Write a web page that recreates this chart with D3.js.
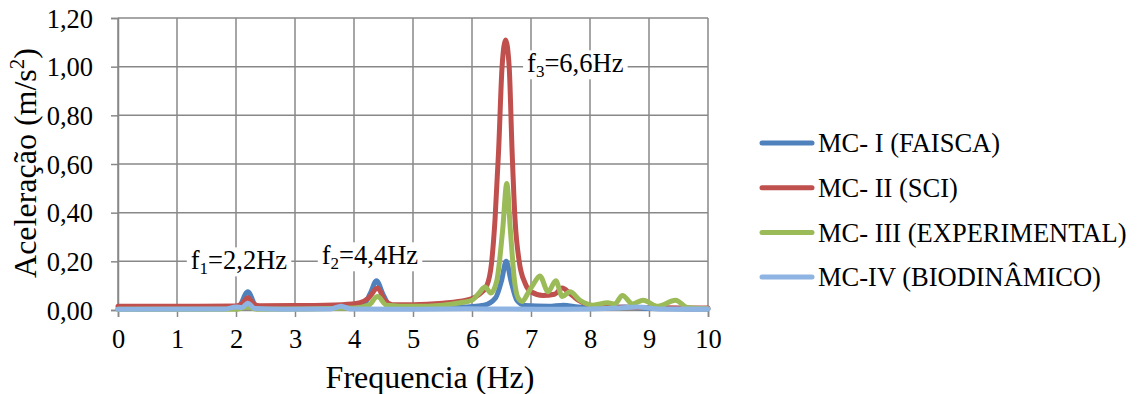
<!DOCTYPE html>
<html>
<head>
<meta charset="utf-8">
<script src="https://cdn.jsdelivr.net/npm/d3@7"></script>
<style>
  body { margin: 0; background: #fff; }
  text { font-family: "Liberation Serif", "Times New Roman", serif; fill: #000; }
</style>
</head>
<body>
<svg width="1137" height="394"></svg>
<script>
// values (Hz, m/s2)
var freqI = [0, 1.9, 2.05, 2.2, 2.35, 2.6, 3.8, 4.15, 4.28, 4.38, 4.5, 4.62, 5, 5.8, 6.2, 6.4, 6.5, 6.58, 6.66, 6.76, 6.9, 7.3, 7.55, 7.8, 8.2, 8.6, 9, 10];
var accI  = [0.005, 0.006, 0.015, 0.075, 0.012, 0.006, 0.01, 0.02, 0.07, 0.12, 0.06, 0.015, 0.01, 0.012, 0.02, 0.05, 0.12, 0.2, 0.12, 0.04, 0.018, 0.015, 0.02, 0.012, 0.008, 0.012, 0.006, 0.004];

var freqII = [0, 1, 2, 2.1, 2.2, 2.3, 2.4, 3, 3.8, 4.1, 4.25, 4.4, 4.52, 4.65, 5, 5.5, 5.9, 6.1, 6.25, 6.33, 6.39, 6.45, 6.51, 6.57, 6.63, 6.68, 6.73, 6.8, 6.9, 7.0, 7.2, 7.4, 7.53, 7.65, 7.8, 8.0, 8.3, 9, 10];
var accII  = [0.015, 0.015, 0.016, 0.025, 0.05, 0.025, 0.017, 0.018, 0.022, 0.03, 0.05, 0.09, 0.04, 0.022, 0.022, 0.028, 0.04, 0.06, 0.1, 0.19, 0.37, 0.65, 1.0, 1.11, 1.0, 0.65, 0.37, 0.2, 0.11, 0.075, 0.06, 0.065, 0.09, 0.07, 0.04, 0.02, 0.012, 0.01, 0.008];

var freqIII = [0, 2.0, 2.2, 2.35, 4.0, 4.25, 4.4, 4.55, 5.0, 5.5, 5.8, 6.0, 6.12, 6.22, 6.32, 6.42, 6.52, 6.59, 6.65, 6.72, 6.78, 6.85, 6.95, 7.05, 7.15, 7.29, 7.42, 7.53, 7.66, 7.83, 8.05, 8.3, 8.42, 8.55, 8.72, 8.9, 9.15, 9.45, 9.65, 10];
var accIII  = [0.003, 0.003, 0.012, 0.003, 0.008, 0.02, 0.055, 0.02, 0.015, 0.02, 0.03, 0.04, 0.07, 0.095, 0.07, 0.12, 0.33, 0.52, 0.33, 0.12, 0.05, 0.035, 0.07, 0.11, 0.14, 0.075, 0.12, 0.055, 0.075, 0.04, 0.02, 0.03, 0.025, 0.06, 0.025, 0.04, 0.015, 0.04, 0.01, 0.005];

var freqIV = [0, 1.8, 2.0, 2.1, 2.2, 2.32, 2.8, 3.6, 3.78, 3.95, 5, 5.9, 6.5, 7.5, 8.5, 8.8, 9.2, 10];
var accIV  = [0.003, 0.004, 0.012, 0.01, 0.028, 0.006, 0.003, 0.004, 0.015, 0.004, 0.003, 0.005, 0.004, 0.003, 0.008, 0.012, 0.004, 0.004];

var seriesNames = ["MC- I (FAISCA)", "MC- II (SCI)", "MC- III (EXPERIMENTAL)", "MC-IV (BIODINÂMICO)"];
var seriesColors = ["#4F81BD", "#C0504D", "#9BBB59", "#8EB4E3"];

var xTicks = [0, 1, 2, 3, 4, 5, 6, 7, 8, 9, 10];
var yTicks = [0, 0.2, 0.4, 0.6, 0.8, 1.0, 1.2];
var yTickLabels = ["0,00", "0,20", "0,40", "0,60", "0,80", "1,00", "1,20"];

// peak labels: main text, subscript, rest, and where they sit (Hz, m/s2)
var peakLabels = [
  { pre: "f", sub: "1", post: "=2,2Hz", f: 2.05, a: 0.205 },
  { pre: "f", sub: "2", post: "=4,4Hz", f: 4.27, a: 0.226 },
  { pre: "f", sub: "3", post: "=6,6Hz", f: 7.75, a: 1.015 }
];

var margin = { top: 18, left: 118 };
var width = 590, height = 292;

var svg = d3.select("svg");
var g = svg.append("g").attr("transform", "translate(" + margin.left + "," + margin.top + ")");

var x = d3.scaleLinear().domain([0, 10]).range([0, width]);
var y = d3.scaleLinear().domain([0, 1.2]).range([height, 0]);

var gridColor = "#888888";

// grid
g.selectAll(".vgrid").data(xTicks).enter().append("line")
  .attr("x1", function(d) { return x(d); }).attr("x2", function(d) { return x(d); })
  .attr("y1", 0).attr("y2", height)
  .attr("stroke", gridColor).attr("stroke-width", 1.5);
g.selectAll(".hgrid").data(yTicks).enter().append("line")
  .attr("x1", 0).attr("x2", width)
  .attr("y1", function(d) { return y(d); }).attr("y2", function(d) { return y(d); })
  .attr("stroke", gridColor).attr("stroke-width", 1.5);

// axes
var xAxis = g.append("g")
  .attr("transform", "translate(0," + height + ")")
  .call(d3.axisBottom(x).tickValues(xTicks).tickSize(7).tickPadding(12).tickFormat(d3.format("d")));
var yAxis = g.append("g")
  .call(d3.axisLeft(y).tickValues(yTicks).tickSize(7).tickPadding(18)
    .tickFormat(function(d, i) { return yTickLabels[i]; }));

[xAxis, yAxis].forEach(function(ax) {
  ax.select(".domain").attr("stroke", gridColor).attr("stroke-width", 1.5);
  ax.selectAll(".tick line").attr("stroke", gridColor).attr("stroke-width", 1.5);
  ax.selectAll(".tick text").style("font-family", "Liberation Serif").style("font-size", "26.5px").attr("fill", "#000");
});
yAxis.selectAll(".tick text").attr("dy", "0.35em");

// lines
var line = d3.line()
  .x(function(d) { return x(d[0]); })
  .y(function(d) { return y(d[1]); })
  .curve(d3.curveMonotoneX);

var series = [
  d3.zip(freqI, accI),
  d3.zip(freqII, accII),
  d3.zip(freqIII, accIII),
  d3.zip(freqIV, accIV)
];

series.forEach(function(s, i) {
  g.append("path")
    .datum(s)
    .attr("fill", "none")
    .attr("stroke", seriesColors[i])
    .attr("stroke-width", 5)
    .attr("stroke-linejoin", "round")
    .attr("stroke-linecap", "round")
    .attr("d", line);
});

// peak labels with white box
peakLabels.forEach(function(p) {
  var lg = g.append("g");
  var t = lg.append("text")
    .attr("x", x(p.f)).attr("y", y(p.a))
    .attr("text-anchor", "middle")
    .attr("dy", "0.35em")
    .style("font-size", "26.5px");
  t.append("tspan").text(p.pre);
  t.append("tspan").text(p.sub).style("font-size", "17px").attr("dy", "5");
  t.append("tspan").text(p.post).attr("dy", "-5");
  var bb = t.node().getBBox();
  lg.insert("rect", "text")
    .attr("x", bb.x - 4).attr("y", bb.y + 2)
    .attr("width", bb.width + 8).attr("height", bb.height - 4)
    .attr("fill", "#fff");
});

// axis titles
svg.append("text")
  .attr("x", 430)
  .attr("y", 388)
  .attr("text-anchor", "middle")
  .style("font-size", "32px")
  .text("Frequencia (Hz)");

var yt = svg.append("text")
  .attr("transform", "translate(36," + 163 + ") rotate(-90)")
  .attr("text-anchor", "middle")
  .style("font-size", "32px");
yt.append("tspan").text("Aceleração (m/s");
yt.append("tspan").text("2").style("font-size", "21px").attr("dy", "-12");
yt.append("tspan").text(")").attr("dy", "12");

// legend
var legend = svg.append("g").attr("transform", "translate(760,143)");
seriesNames.forEach(function(name, i) {
  var row = legend.append("g").attr("transform", "translate(0," + (i * 44.7) + ")");
  row.append("line")
    .attr("x1", 2).attr("x2", 52).attr("y1", 0).attr("y2", 0)
    .attr("stroke", seriesColors[i]).attr("stroke-width", 5).attr("stroke-linecap", "round");
  row.append("text")
    .attr("x", 58).attr("y", 0).attr("dy", "0.35em")
    .style("font-size", "26.5px")
    .text(name);
});
</script>
</body>
</html>
